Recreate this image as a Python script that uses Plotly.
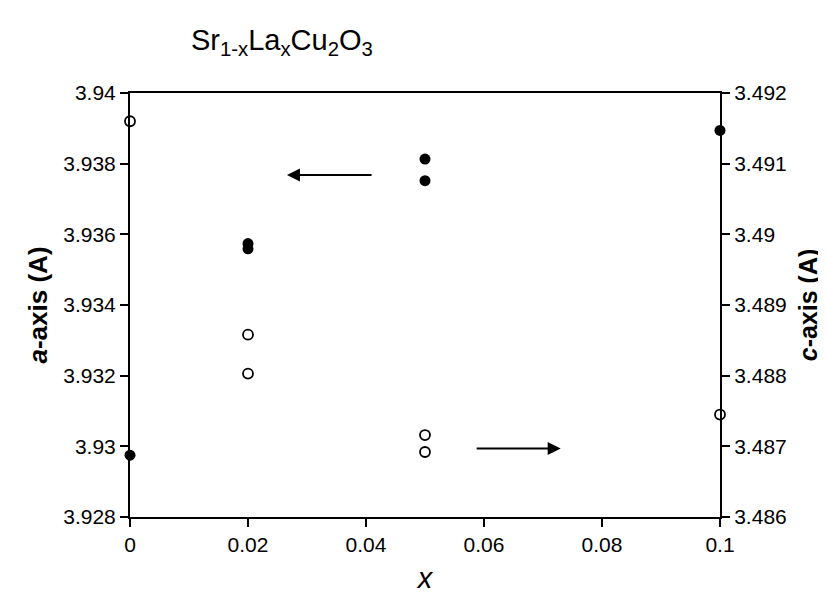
import plotly.graph_objects as go

# a-axis (filled, left axis)
a_x = [0.0, 0.02, 0.02, 0.05, 0.05, 0.1]
a_val = [3.92975, 3.93574, 3.93559, 3.93813, 3.93752, 3.93894]
# c-axis (open, right axis)
c_x = [0.0, 0.02, 0.02, 0.05, 0.05, 0.1]
c_val = [3.4916, 3.48858, 3.48803, 3.48716, 3.48692, 3.48745]

x_ticks = [0, 0.02, 0.04, 0.06, 0.08, 0.1]
a_ticks = [3.928, 3.93, 3.932, 3.934, 3.936, 3.938, 3.94]
c_ticks = [3.486, 3.487, 3.488, 3.489, 3.49, 3.491, 3.492]

FONT = "Liberation Sans, Arial, sans-serif"

fig = go.Figure()
fig.add_trace(go.Scatter(x=a_x, y=a_val, mode="markers", yaxis="y",
                         marker=dict(symbol="circle", size=11, color="black"),
                         cliponaxis=False, showlegend=False))
fig.add_trace(go.Scatter(x=c_x, y=c_val, mode="markers", yaxis="y2",
                         marker=dict(symbol="circle-open", size=10, color="black",
                                     line=dict(width=1.8, color="black")),
                         cliponaxis=False, showlegend=False))

axis_common = dict(showline=True, linecolor="black", linewidth=2, ticks="outside",
                   ticklen=8, tickwidth=1.5, tickcolor="black", showgrid=False,
                   zeroline=False, tickfont=dict(family=FONT, size=21, color="black"))

fig.update_layout(
    width=826, height=593,
    paper_bgcolor="white", plot_bgcolor="white",
    margin=dict(l=122, r=114, t=85, b=73),
    title=dict(text="Sr<sub>1-x</sub>La<sub>x</sub>Cu<sub>2</sub>O<sub>3</sub>",
               x=183/826, xanchor="left", y=1-32/593, yanchor="middle",
               font=dict(family=FONT, size=29, color="black")),
    xaxis=dict(range=[0, 0.1], tickvals=x_ticks, mirror=True,
               title=dict(text="<i>x</i>", font=dict(family=FONT, size=29, color="black"), standoff=12),
               **axis_common),
    yaxis=dict(range=[3.928, 3.94], tickvals=a_ticks,
               title=dict(text="<b><i>a</i>-axis (A)</b>", font=dict(family=FONT, size=26, color="black"), standoff=8),
               **axis_common),
    yaxis2=dict(range=[3.486, 3.492], tickvals=c_ticks, overlaying="y", side="right",
                title=dict(text="<b><i>c</i>-axis (A)</b>", font=dict(family=FONT, size=25, color="black"), standoff=14),
                **axis_common),
)

# arrows indicating which axis each series belongs to
fig.add_annotation(x=0.0266, y=3.93768, ax=0.0412, ay=3.93768, xref="x", yref="y",
                   axref="x", ayref="y", showarrow=True, arrowhead=2, arrowsize=1.3,
                   arrowwidth=2, arrowcolor="black", text="")
fig.add_annotation(x=0.073, y=3.48697, ax=0.0585, ay=3.48697, xref="x", yref="y2",
                   axref="x", ayref="y2", showarrow=True, arrowhead=2, arrowsize=1.3,
                   arrowwidth=2, arrowcolor="black", text="")

fig.write_html("out.html")
